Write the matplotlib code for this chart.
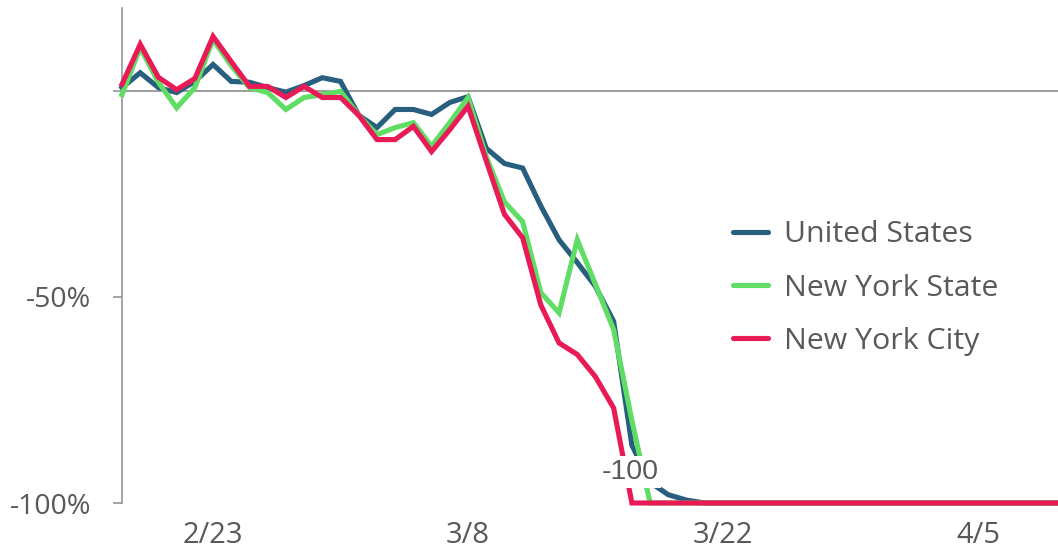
import matplotlib
matplotlib.use("Agg")
import matplotlib.pyplot as plt

# days since 2/18 (index 0 = 2/18)
days = list(range(53))

us = [0.7, 4.3, 0.7, -0.5, 2.2, 6.3, 2.2, 2.0, 0.7, -0.4, 1.2, 3.1, 2.2,
      -6, -9, -4.6, -4.6, -5.8, -2.9, -1.5, -14, -17.7, -18.8, -28, -36.2,
      -41.7, -47.5, -56, -86, -95, -98, -99.3] + [-100] * 21
nys = [-1, 10.4, 2, -4.2, 0.7, 12.4, 6, 0.7, -0.5, -4.6, -1.7, -1, -0.2,
       -6, -10.7, -9, -7.8, -13.5, -7.8, -1.7, -16, -27, -31.8, -49, -53.9,
       -36.2, -47, -58, -80] + [-100] * 24
nyc = [1.5, 11.2, 3.2, 0.2, 2.9, 13.1, 7, 1, 1, -1.7, 1, -1.7, -1.7,
       -6, -11.9, -11.9, -8.7, -14.8, -9.5, -3.8, -17, -30, -35.7, -52, -61.2,
       -64, -69.4, -77, -100] + [-100] * 24

tick_days = [5, 19, 33, 47]
tick_labels = ["2/23", "3/8", "3/22", "4/5"]
labels = ["United States", "New York State", "New York City"]
colors = ["#285e7e", "#5fdd64", "#e91b57"]

plt.rcParams["font.family"] = ["Open Sans", "DejaVu Sans"]
txt = "#595959"
grey = "#8c8c8c"

fig = plt.figure(figsize=(10.58, 5.49), dpi=100)
ax = fig.add_axes([122 / 1058, 1 - 503 / 549, 1 - 122 / 1058, (503 - 8) / 549])

ax.axhline(0, color=grey, lw=1.2, zorder=1)
for ser, lab, col in zip([us, nys, nyc], labels, colors):
    ax.plot(days, ser, color=col, lw=3.7, label=lab, clip_on=False,
            solid_joinstyle="miter", zorder=3)

ax.text(27.9, -92.5, "-100", ha="center", va="center", fontsize=20.5,
        color=txt, family=["Liberation Sans"], zorder=5,
        bbox=dict(facecolor="white", edgecolor="none", pad=2))

ax.set_xlim(0, 51.4)
ax.set_ylim(-100, 20)
ax.set_xticks(tick_days)
ax.set_xticklabels(tick_labels)
ax.set_yticks([0, -50, -100])
ax.set_yticklabels(["", "-50%", "-100%"])
ax.tick_params(axis="x", length=0, pad=13, labelsize=21, labelcolor=txt)
ax.tick_params(axis="y", length=6.5, width=1.1, color=grey, pad=15.5,
               labelsize=20.5, labelcolor=txt)

for s in ["top", "right", "bottom"]:
    ax.spines[s].set_visible(False)
ax.spines["left"].set_color(grey)
ax.spines["left"].set_linewidth(1.1)

leg = ax.legend(loc="center left", bbox_to_anchor=(733 / 1058, 1 - 288 / 549),
                bbox_transform=fig.transFigure, frameon=False, fontsize=21.8,
                handlelength=1.15, handletextpad=0.55, labelspacing=0.8,
                borderpad=0, borderaxespad=0)
for t in leg.get_texts():
    t.set_color(txt)
for h in leg.get_lines():
    h.set_solid_capstyle("round")

fig.savefig("out.png", dpi=100)
